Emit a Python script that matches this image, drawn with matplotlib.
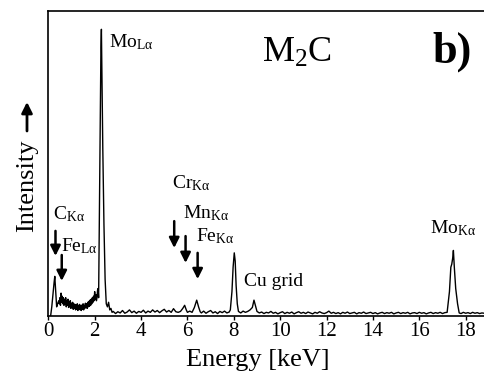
import numpy as np
import matplotlib
matplotlib.use("Agg")
import matplotlib.pyplot as plt

plt.rcParams['font.family'] = ['Liberation Serif', 'DejaVu Sans']
plt.rcParams['mathtext.fontset'] = 'custom'
plt.rcParams['mathtext.rm'] = 'Liberation Serif'
plt.rcParams['mathtext.it'] = 'Liberation Serif:italic'

# low energy part: C K peak, Fe L
e_c = [0.10, 0.15, 0.20, 0.25, 0.28, 0.32, 0.36, 0.40]
i_c = [0.00, 0.03, 0.07, 0.11, 0.13, 0.08, 0.03, 0.04]

# noisy background 0.45 - 2.125 keV (0.025 keV channels), then step before Mo L
e_band = np.round(np.arange(0.45, 2.13, 0.025), 3)
i_band = [0.050, 0.040, 0.060, 0.035, 0.075, 0.045, 0.065, 0.040, 0.060, 0.035,
          0.055, 0.040, 0.060, 0.030, 0.050, 0.035, 0.055, 0.028, 0.048, 0.030,
          0.050, 0.025, 0.042, 0.028, 0.045, 0.022, 0.040, 0.025, 0.038, 0.020,
          0.036, 0.022, 0.040, 0.018, 0.035, 0.022, 0.038, 0.020, 0.034, 0.018,
          0.036, 0.022, 0.040, 0.020, 0.035, 0.025, 0.042, 0.028, 0.040, 0.025,
          0.045, 0.030, 0.048, 0.032, 0.052, 0.035, 0.055, 0.040, 0.060, 0.045,
          0.065, 0.050, 0.080, 0.055, 0.070, 0.050, 0.060, 0.085]

# Mo L alpha peak
e_mol = [2.145, 2.17, 2.20, 2.24, 2.27, 2.29, 2.31, 2.35, 2.40, 2.45, 2.50, 2.55, 2.60, 2.65, 2.70, 2.75]
i_mol = [0.09, 0.06, 0.30, 0.65, 0.88, 0.94, 0.80, 0.55, 0.30, 0.12, 0.04, 0.03, 0.045, 0.02, 0.025, 0.012]

# 2.8 - 9.1 keV: Cr, Mn, Fe K and Cu grid
e_mid = [2.8, 2.9, 3.0, 3.1, 3.2, 3.3, 3.4, 3.5, 3.6, 3.7, 3.8, 3.9, 4.0, 4.1, 4.2,
         4.3, 4.4, 4.5, 4.6, 4.7, 4.8, 4.9, 5.0, 5.1, 5.2, 5.3, 5.4, 5.5, 5.6, 5.7,
         5.8, 5.88, 5.95, 6.0, 6.1, 6.2, 6.3, 6.4, 6.48, 6.55, 6.6, 6.7, 6.8, 6.9,
         7.0, 7.1, 7.2, 7.3, 7.4, 7.5, 7.6, 7.7, 7.8, 7.85, 7.92, 7.97, 8.02, 8.06,
         8.10, 8.15, 8.2, 8.3, 8.4, 8.5, 8.6, 8.7, 8.8, 8.87, 8.93, 9.0, 9.1]
i_mid = [0.015, 0.008, 0.014, 0.010, 0.018, 0.009, 0.013, 0.020, 0.011, 0.016, 0.009, 0.015,
         0.012, 0.019, 0.010, 0.016, 0.012, 0.020, 0.013, 0.018, 0.011, 0.017, 0.022, 0.013,
         0.018, 0.012, 0.024, 0.014, 0.012, 0.015, 0.025, 0.035, 0.020, 0.012, 0.016, 0.012,
         0.028, 0.052, 0.030, 0.014, 0.010, 0.016, 0.009, 0.014, 0.018, 0.010, 0.014, 0.008,
         0.015, 0.011, 0.016, 0.010, 0.013, 0.020, 0.080, 0.160, 0.207, 0.180, 0.100, 0.040,
         0.015, 0.010, 0.016, 0.012, 0.015, 0.020, 0.028, 0.052, 0.035, 0.015, 0.010]

# flat background 9.2 - 17.1 keV (0.1 keV channels)
e_bg = np.round(np.arange(9.2, 17.15, 0.1), 2)
i_bg = [0.013, 0.008, 0.012, 0.010, 0.015, 0.009, 0.012, 0.007, 0.011, 0.014,
        0.008, 0.012, 0.009, 0.013, 0.007, 0.011, 0.014, 0.009, 0.012, 0.008,
        0.013, 0.010, 0.007, 0.012, 0.009, 0.014, 0.010, 0.008, 0.011, 0.016,
        0.009, 0.012, 0.008, 0.011, 0.007, 0.012, 0.009, 0.013, 0.008, 0.010,
        0.012, 0.007, 0.011, 0.009, 0.013, 0.008, 0.010, 0.012, 0.008, 0.011,
        0.007, 0.010, 0.012, 0.008, 0.011, 0.009, 0.012, 0.007, 0.010, 0.012,
        0.008, 0.011, 0.009, 0.012, 0.007, 0.010, 0.011, 0.008, 0.012, 0.009,
        0.011, 0.007, 0.010, 0.012, 0.008, 0.011, 0.009, 0.012, 0.008, 0.011]

# Mo K alpha peak and the tail
e_mok = [17.2, 17.3, 17.36, 17.40, 17.44, 17.47, 17.51, 17.57, 17.65, 17.72,
         17.8, 17.9, 18.0, 18.1, 18.2, 18.3, 18.4, 18.5, 18.6, 18.7, 18.8]
i_mok = [0.012, 0.08, 0.16, 0.17, 0.19, 0.215, 0.16, 0.09, 0.04, 0.010,
         0.008, 0.012, 0.009, 0.011, 0.008, 0.012, 0.009, 0.011, 0.008, 0.010, 0.009]

energy = np.concatenate([e_c, e_band, e_mol, e_mid, e_bg, e_mok])
intensity = np.concatenate([i_c, i_band, i_mol, i_mid, i_bg, i_mok])

# peak labels: text, x, baseline y
labels = [r'Mo$_{\mathrm{L\alpha}}$', r'C$_{\mathrm{K\alpha}}$', r'Fe$_{\mathrm{L\alpha}}$',
          r'Cr$_{\mathrm{K\alpha}}$', r'Mn$_{\mathrm{K\alpha}}$', r'Fe$_{\mathrm{K\alpha}}$',
          'Cu grid', r'Mo$_{\mathrm{K\alpha}}$']
label_x = [2.62, 0.19, 0.55, 5.35, 5.81, 6.37, 8.43, 16.46]
label_y = [0.882, 0.318, 0.213, 0.42, 0.321, 0.246, 0.10, 0.272]

# arrows: x, tail y, tip y
arrow_x = [0.31, 0.58, 5.43, 5.92, 6.44]
arrow_top = [0.279, 0.20, 0.311, 0.262, 0.207]
arrow_tip = [0.197, 0.115, 0.223, 0.174, 0.121]

fig = plt.figure(figsize=(4.84, 3.72), dpi=100)
ax = fig.add_axes([48.3 / 484, 56 / 372, (484 - 48.3) / 484, 305 / 372])

ax.plot(energy, intensity, color='k', lw=1.0)

for t, x, y in zip(labels, label_x, label_y):
    ax.text(x, y, t, fontsize=14, va='baseline', ha='left')

for x, y0, y1 in zip(arrow_x, arrow_top, arrow_tip):
    ax.annotate('', xy=(x, y1), xytext=(x, y0),
                arrowprops=dict(arrowstyle='-|>', color='k', lw=1.8,
                                mutation_scale=15, shrinkA=0, shrinkB=0))

ax.text(9.2, 0.833, r'M$_2$C', fontsize=26, va='baseline')
ax.text(16.55, 0.83, 'b)', fontsize=32, fontweight='bold', va='baseline')

ax.set_xlim(0, 18.79)
ax.set_ylim(0, 1)
ax.set_xticks(range(0, 19, 2))
ax.tick_params(axis='x', direction='out', length=3, width=1, labelsize=15, pad=1)
ax.set_yticks([])
ax.spines['right'].set_visible(False)
for s in ['top', 'left', 'bottom']:
    ax.spines[s].set_linewidth(1.2)

fig.text(258 / 484, 1 - 360 / 372, 'Energy [keV]', fontsize=19, ha='center', va='center')
fig.text(27 / 484, 1 - 186 / 372, 'Intensity', fontsize=19, rotation=90,
         ha='center', va='center')
ax.annotate('', xy=(27 / 484, 1 - 102 / 372), xytext=(27 / 484, 1 - 131 / 372),
            xycoords='figure fraction', textcoords='figure fraction',
            arrowprops=dict(arrowstyle='-|>', color='k', lw=2.0,
                            mutation_scale=16, shrinkA=0, shrinkB=0))

fig.savefig('out.png', dpi=100)
